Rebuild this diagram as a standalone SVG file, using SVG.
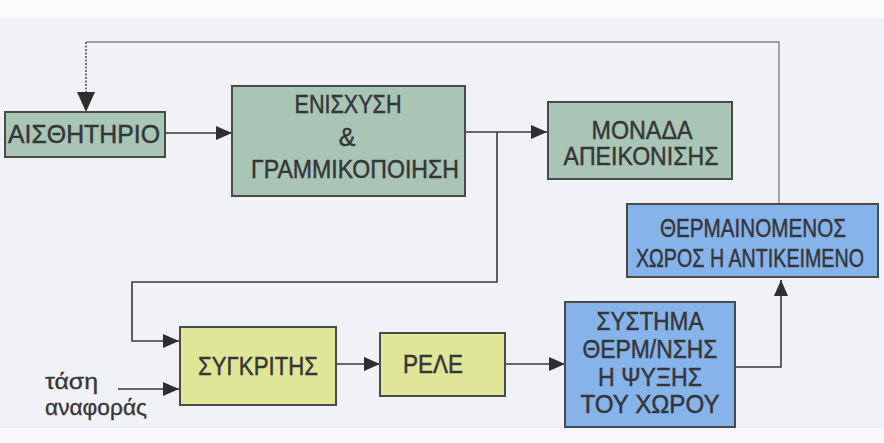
<svg xmlns="http://www.w3.org/2000/svg" width="884" height="443" viewBox="0 0 884 443">
  <style>
    .box { stroke: #4a4a4a; stroke-width: 2; }
    .green { fill: #a9c5b6; }
    .yellow { fill: #dfe697; }
    .blue { fill: #86b3ea; }
    .lbl { font-family: "Liberation Sans", "DejaVu Sans", sans-serif; font-size: 25px; fill: #363638; stroke: #363638; stroke-width: 0.45; text-anchor: middle; }
    .small { font-family: "Liberation Sans", "DejaVu Sans", sans-serif; font-size: 22px; fill: #363638; stroke: #363638; stroke-width: 0.35; }
    .wire { fill: none; stroke: #3a3a3a; stroke-width: 1.6; }
    .fb { fill: none; stroke: #8a8a8e; stroke-width: 1.5; }
  </style>
  <defs>
    <marker id="arrow" viewBox="0 0 16 14" refX="16" refY="7" markerWidth="16" markerHeight="14" markerUnits="userSpaceOnUse" orient="auto">
      <path d="M0,0 L16,7 L0,14 Z" fill="#2e2e2e"/>
    </marker>
    <marker id="arrowBig" viewBox="0 0 20 18" refX="20" refY="9" markerWidth="20" markerHeight="18" markerUnits="userSpaceOnUse" orient="auto">
      <path d="M0,0 L20,9 L0,18 Z" fill="#2e2e2e"/>
    </marker>
  </defs>

  <!-- paper background -->
  <rect x="0" y="0" width="884" height="443" fill="#f1f2f6"/>
  <rect x="0" y="0" width="884" height="18" fill="#fbfbfc"/>
  <rect x="0" y="428" width="884" height="15" fill="#f8f8fa"/>

  <!-- connectors -->
  <g id="connectors">
    <!-- feedback from heated space back to the sensor -->
    <polyline class="fb" points="779,204 779,42 86,42"/>
    <line x1="86" y1="42" x2="86" y2="112" stroke="#555" stroke-width="1.6" stroke-dasharray="2,1.5" marker-end="url(#arrowBig)"/>
    <!-- sensor to amplifier -->
    <line class="wire" x1="165" y1="133" x2="232" y2="133" marker-end="url(#arrow)"/>
    <!-- amplifier to display unit -->
    <line class="wire" x1="465" y1="132" x2="547" y2="132" marker-end="url(#arrow)"/>
    <!-- amplifier output down to comparator -->
    <polyline class="wire" stroke="#555" points="497,132 497,282 132,282 132,341 179,341" marker-end="url(#arrow)"/>
    <!-- reference voltage -->
    <line class="wire" x1="118" y1="389" x2="179" y2="389" marker-end="url(#arrow)"/>
    <!-- comparator to relay -->
    <line class="wire" x1="336" y1="364" x2="380" y2="364" marker-end="url(#arrow)"/>
    <!-- relay to heating/cooling system -->
    <line class="wire" x1="505" y1="364" x2="565" y2="364" marker-end="url(#arrow)"/>
    <!-- system to heated space -->
    <polyline class="wire" stroke="#555" points="735,367 781,367 781,280" marker-end="url(#arrow)"/>
  </g>

  <g id="sensor">
    <rect class="box green" x="5" y="112" width="160" height="45"/>
    <text class="lbl" x="84" y="143" font-size="27" textLength="152" lengthAdjust="spacingAndGlyphs">ΑΙΣΘΗΤΗΡΙΟ</text>
  </g>

  <g id="amplifier">
    <rect class="box green" x="232" y="86" width="233" height="110"/>
    <text class="lbl" x="348" y="113" textLength="107" lengthAdjust="spacingAndGlyphs">ΕΝΙΣΧΥΣΗ</text>
    <text class="lbl" x="347" y="146">&amp;</text>
    <text class="lbl" x="355" y="178" textLength="208" lengthAdjust="spacingAndGlyphs">ΓΡΑΜΜΙΚΟΠΟΙΗΣΗ</text>
  </g>

  <g id="display">
    <rect class="box green" x="548" y="102" width="184" height="77"/>
    <text class="lbl" x="642" y="139" font-size="23" textLength="101" lengthAdjust="spacingAndGlyphs">ΜΟΝΑΔΑ</text>
    <text class="lbl" x="641" y="165" font-size="23" textLength="155" lengthAdjust="spacingAndGlyphs">ΑΠΕΙΚΟΝΙΣΗΣ</text>
  </g>

  <g id="heated-space">
    <rect class="box blue" x="627" y="204" width="251" height="73"/>
    <text class="lbl" x="753" y="237" font-size="21.5" textLength="186" lengthAdjust="spacingAndGlyphs">ΘΕΡΜΑΙΝΟΜΕΝΟΣ</text>
    <text class="lbl" x="750" y="267" font-size="20" textLength="228" lengthAdjust="spacingAndGlyphs">ΧΩΡΟΣ Η ΑΝΤΙΚΕΙΜΕΝΟ</text>
  </g>

  <g id="comparator">
    <rect class="box yellow" x="180" y="327" width="156" height="78"/>
    <text class="lbl" x="258" y="375" textLength="120" lengthAdjust="spacingAndGlyphs">ΣΥΓΚΡΙΤΗΣ</text>
  </g>

  <g id="relay">
    <rect class="box yellow" x="380" y="333" width="125" height="63"/>
    <text class="lbl" x="433" y="373" textLength="60" lengthAdjust="spacingAndGlyphs">ΡΕΛΕ</text>
  </g>

  <g id="heating-system">
    <rect class="box blue" x="565" y="302" width="170" height="125"/>
    <text class="lbl" x="650" y="330" textLength="107" lengthAdjust="spacingAndGlyphs">ΣΥΣΤΗΜΑ</text>
    <text class="lbl" x="650" y="358" textLength="135" lengthAdjust="spacingAndGlyphs">ΘΕΡΜ/ΝΣΗΣ</text>
    <text class="lbl" x="650" y="386" textLength="104" lengthAdjust="spacingAndGlyphs">Η ΨΥΞΗΣ</text>
    <text class="lbl" x="650" y="413" textLength="139" lengthAdjust="spacingAndGlyphs">ΤΟΥ ΧΩΡΟΥ</text>
  </g>

  <g id="reference-voltage">
    <text class="small" x="45" y="389" textLength="53" lengthAdjust="spacingAndGlyphs">τάση</text>
    <text class="small" x="45" y="415" textLength="102" lengthAdjust="spacingAndGlyphs">αναφοράς</text>
  </g>
</svg>
